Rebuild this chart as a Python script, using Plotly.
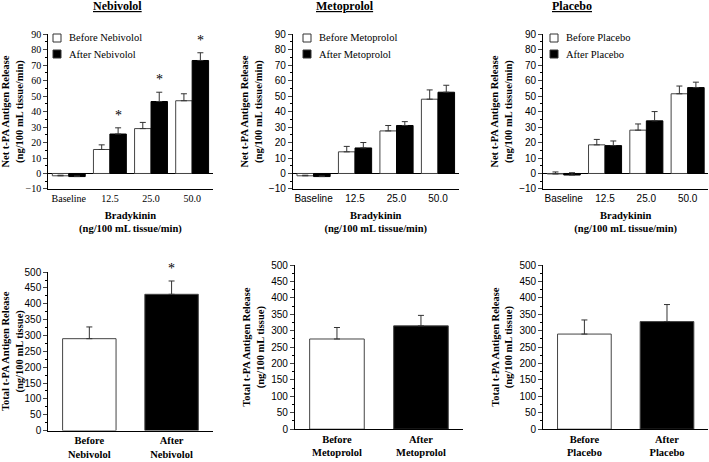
import plotly.graph_objects as go
from plotly.subplots import make_subplots

SERIF = "Liberation Serif"
SANS = "Liberation Sans"
W, H = 709, 462

doses = ["Baseline", "12.5", "25.0", "50.0"]

# net t-PA release, before / after each drug (with SEM)
neb_before = [-1.5, 15.5, 29.0, 47.0]
neb_before_err = [0.4, 3.0, 4.0, 4.5]
neb_after = [-2.0, 25.5, 46.5, 73.0]
neb_after_err = [0.4, 4.0, 6.0, 5.0]

met_before = [-1.5, 14.0, 27.5, 48.0]
met_before_err = [0.4, 3.5, 3.5, 6.0]
met_after = [-2.0, 16.5, 31.0, 52.5]
met_after_err = [0.4, 3.5, 2.5, 4.5]

pla_before = [-0.3, 18.5, 28.0, 51.5]
pla_before_err = [1.3, 3.5, 4.0, 5.0]
pla_after = [-1.0, 18.0, 34.0, 55.5]
pla_after_err = [1.5, 3.0, 6.0, 3.5]

neb_stars = ["12.5", "25.0", "50.0"]

# total t-PA release
neb_total = [290, 430]
neb_total_err = [37, 42]
met_total = [275, 315]
met_total_err = [35, 32]
pla_total = [290, 328]
pla_total_err = [43, 52]

drugs = ["Nebivolol", "Metoprolol", "Placebo"]

fig = make_subplots(rows=2, cols=3)

top = [(neb_before, neb_before_err, neb_after, neb_after_err),
       (met_before, met_before_err, met_after, met_after_err),
       (pla_before, pla_before_err, pla_after, pla_after_err)]
bottom = [(neb_total, neb_total_err), (met_total, met_total_err), (pla_total, pla_total_err)]

for i, (drug, (b, be, a, ae)) in enumerate(zip(drugs, top)):
    fig.add_trace(go.Bar(x=doses, y=b, name="Before " + drug, showlegend=False,
                         marker=dict(color="white", line=dict(color="#444", width=1)),
                         error_y=dict(type="data", array=be, arrayminus=[0] * 4, symmetric=False,
                                      color="#333", thickness=1, width=3)),
                  row=1, col=i + 1)
    fig.add_trace(go.Bar(x=doses, y=a, name="After " + drug, showlegend=False,
                         marker=dict(color="black", line=dict(color="black", width=1)),
                         error_y=dict(type="data", array=ae, arrayminus=[0] * 4, symmetric=False,
                                      color="#333", thickness=1, width=3)),
                  row=1, col=i + 1)

for i, (drug, (v, e)) in enumerate(zip(drugs, bottom)):
    cats = ["<b>Before<br>" + drug + "</b>", "<b>After<br>" + drug + "</b>"]
    fig.add_trace(go.Bar(x=cats, y=v, width=0.65, showlegend=False,
                         marker=dict(color=["white", "black"], line=dict(color="#444", width=1)),
                         error_y=dict(type="data", array=e, arrayminus=[0, 0], symmetric=False,
                                      color="#333", thickness=1, width=3)),
                  row=2, col=i + 1)

# stars
for d in neb_stars:
    k = doses.index(d)
    fig.add_annotation(x=k + 0.2, y=neb_after[k] + neb_after_err[k] + 2, xref="x", yref="y",
                       text="*", showarrow=False, yanchor="bottom",
                       font=dict(family=SERIF, size=14, color="black"))
fig.add_annotation(x=1, y=1 - 268 / H, xref="x4", yref="paper", text="*", showarrow=False,
                   yanchor="middle", font=dict(family=SERIF, size=14, color="black"))

top_x = [[0.068, 0.300], [0.413, 0.647], [0.766, 0.999]]
bot_x = [[0.068, 0.300], [0.416, 0.653], [0.766, 0.999]]
top_y = [0.591, 0.926]
bot_y = [[0.068, 0.411], [0.071, 0.426], [0.071, 0.426]]

title_font = dict(family=SERIF, size=10.5, color="black")
for i in range(3):
    tick_family = SERIF if i == 0 else SANS
    xa = "xaxis" if i == 0 else "xaxis%d" % (i + 1)
    ya = "yaxis" if i == 0 else "yaxis%d" % (i + 1)
    fig.layout[xa].update(domain=top_x[i], showline=True, linecolor="black", linewidth=1,
                          ticks="", showgrid=False, automargin=False,
                          tickfont=dict(family=tick_family, size=10, color="black"),
                          title=dict(text="<b>Bradykinin<br>(ng/100 mL tissue/min)</b>",
                                     font=title_font, standoff=8))
    fig.layout[ya].update(domain=top_y, range=[-10, 90], dtick=10, showline=True,
                          linecolor="black", linewidth=1, ticks="outside", ticklen=4,
                          minor=dict(ticks="outside", ticklen=2, dtick=5, tickcolor="black"),
                          showgrid=False, zeroline=True, zerolinecolor="black", zerolinewidth=1,
                          automargin=False,
                          tickfont=dict(family=tick_family, size=10, color="black"),
                          title=dict(text="<b>Net t-PA Antigen Release<br>(ng/100 mL tissue/min)</b>",
                                     font=title_font, standoff=4))
    xb = "xaxis%d" % (i + 4)
    yb = "yaxis%d" % (i + 4)
    fig.layout[xb].update(domain=bot_x[i], showline=True, linecolor="black", linewidth=1,
                          ticks="", showgrid=False, range=[-0.5, 1.5], automargin=False,
                          tickfont=dict(family=SERIF, size=10.5, color="black"))
    fig.layout[yb].update(domain=bot_y[i], range=[0, 500], dtick=50, showline=True,
                          linecolor="black", linewidth=1, ticks="outside", ticklen=4,
                          minor=dict(ticks="outside", ticklen=2, dtick=25, tickcolor="black"),
                          showgrid=False, zeroline=False, automargin=False,
                          tickfont=dict(family=SANS, size=10, color="black"),
                          title=dict(text="<b>Total t-PA Antigen Release<br>(ng/100 mL tissue)</b>",
                                     font=title_font, standoff=4))

# panel titles
title_x = [91, 345, 594]
for i, drug in enumerate(drugs):
    fig.add_annotation(x=title_x[i] / W, y=1.0, xref="paper", yref="paper", yanchor="top",
                       yshift=3, text="<b><u>" + drug + "</u></b>", showarrow=False,
                       font=dict(family=SERIF, size=12, color="black"))

# legends (small boxes + labels, like the original)
leg_px = [57, 307, 554]
leg_py = [38, 54]
for i, drug in enumerate(drugs):
    for j, (label, fill) in enumerate([("Before ", "white"), ("After ", "black")]):
        cx, cy = leg_px[i], leg_py[j]
        fig.add_shape(type="rect", xref="paper", yref="paper",
                      x0=(cx - 4) / W, x1=(cx + 4) / W, y0=1 - (cy + 4) / H, y1=1 - (cy - 4) / H,
                      fillcolor=fill, line=dict(color="#333", width=1))
        fig.add_annotation(x=(cx + 10) / W, y=1 - cy / H, xref="paper", yref="paper",
                           xanchor="left", yanchor="middle", showarrow=False,
                           text=label + drug, font=dict(family=SERIF, size=10.5, color="black"))

fig.update_layout(width=W, height=H, margin=dict(l=0, r=0, t=0, b=0),
                  plot_bgcolor="white", paper_bgcolor="white",
                  barmode="group", bargap=0.2, bargroupgap=0)

fig.write_html("out.html", config={"displayModeBar": False},
               post_script="document.body.style.margin='0';")
